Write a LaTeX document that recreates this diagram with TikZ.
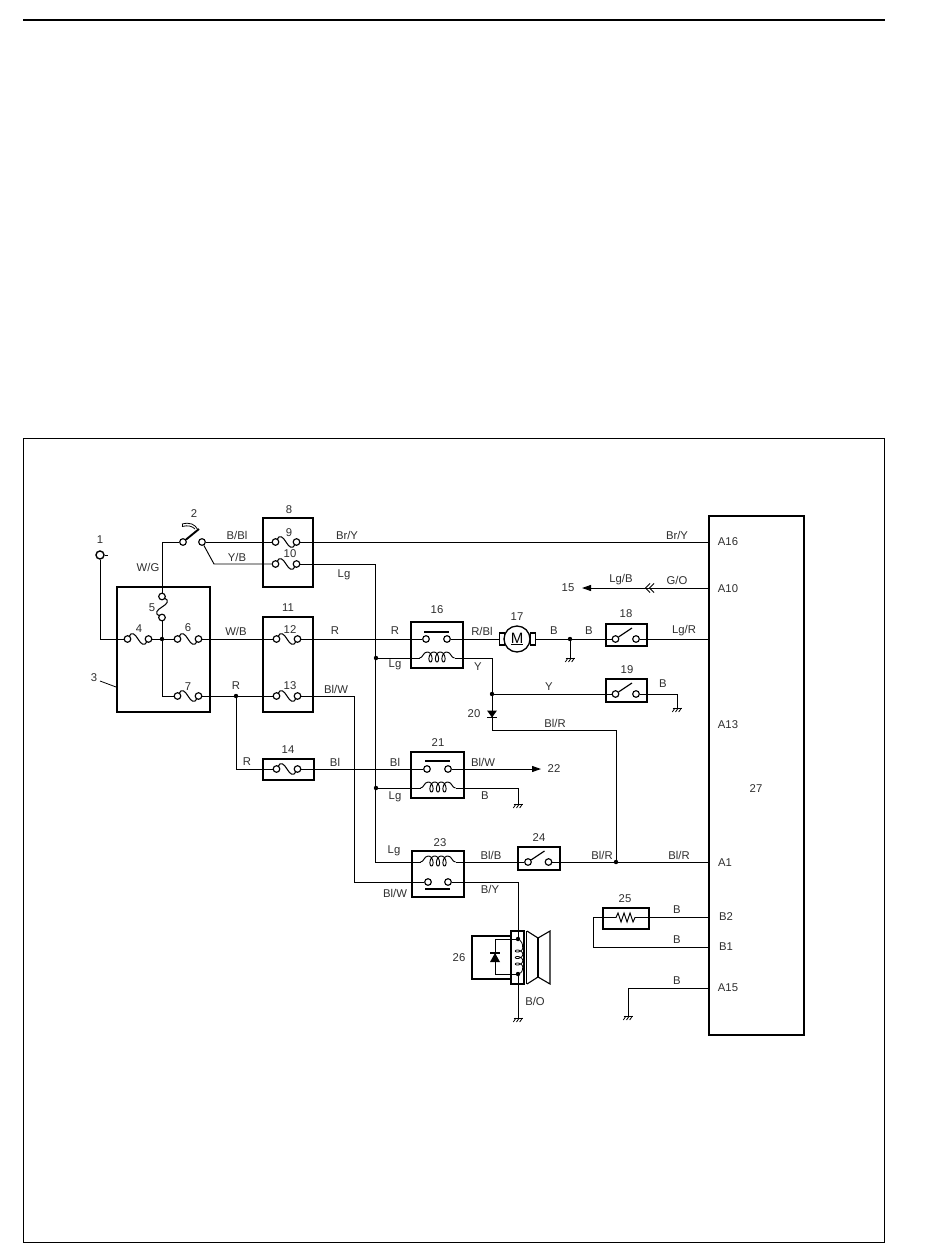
\documentclass[tikz,border=0pt]{standalone}
\usepackage{fontspec}
\setmainfont{Liberation Sans}
\usetikzlibrary{arrows.meta}
\newcount\labn
\tikzset{
  x=1pt,y=-1pt,
  wire/.style={line width=0.95pt,line join=miter},
  boxn/.style={draw,line width=1.4pt,inner sep=0pt,fill=none},
  term/.style={circle,draw,line width=1.15pt,fill=white,minimum size=6.6pt,inner sep=0pt},
  dotn/.style={circle,fill=black,minimum size=4.4pt,inner sep=0pt},
  lbl/.style={inner sep=0pt,font=\fontsize{11.3}{12}\selectfont,text=black!82},
  thinl/.style={line width=0.8pt},
  blade/.style={line width=1.15pt},
}
\newcommand{\lab}[3]{\global\advance\labn by 1 \node[lbl] (t\the\labn) at (#1,#2) {#3};}
\newcommand{\bx}[5]{\node[boxn,minimum width={(#4-#2)*1pt},minimum height={(#5-#3)*1pt}] (#1) at ({(#2+#4)/2},{(#3+#5)/2}) {};}
\newcommand{\fuse}[3]{%
  \draw[line width=1.05pt] (#2-9,#3-2.5) .. controls (#2-6.5,#3-8) and (#2-3,#3-5) .. (#2,#3) .. controls (#2+3,#3+5) and (#2+6.5,#3+8) .. (#2+9,#3+2.5);
  \node[term] (#1l) at (#2-10.5,#3) {};
  \node[term] (#1r) at (#2+10.5,#3) {};}
\newcommand{\vfuse}[3]{%
  \draw[line width=1.05pt] (#2+2.5,#3-9) .. controls (#2+8,#3-6.5) and (#2+5,#3-3) .. (#2,#3) .. controls (#2-5,#3+3) and (#2-8,#3+6.5) .. (#2-2.5,#3+9);
  \node[term] (#1t) at (#2,#3-10.5) {};
  \node[term] (#1b) at (#2,#3+10.5) {};}
\newcommand{\swt}[3]{%
  \node[term] (#1l) at (#2-10.5,#3) {};
  \node[term] (#1r) at (#2+10,#3) {};
  \draw[blade] (#1l) -- (#2+6,#3-11);}
\newcommand{\coilh}[3]{%
  \coordinate (#1l) at (#2-17.5,#3);
  \coordinate (#1r) at (#2+17.5,#3);
  \draw[wire] (#1l) .. controls (#2-14,#3) and (#2-14,#3-6) .. (#2-9.75,#3-6);
  \draw[wire] plot[domain=0:1080,samples=121,smooth,variable=\t] ({#2+(\t/1080-0.5)*19.5+3.0*sin(\t)},{#3-1-5*cos(\t)});
  \draw[wire] (#2+9.75,#3-6) .. controls (#2+14,#3-6) and (#2+14,#3) .. (#1r);}
\newcommand{\gnd}[2]{%
  \draw[thinl] (#1-4.5,#2) -- (#1+4.5,#2);
  \foreach \k in {-4,-0.8,2.4} \draw[thinl] (#1+\k+2,#2) -- (#1+\k-0.7,#2+4);}
\begin{document}
\begin{tikzpicture}
\useasboundingbox (0,0) rectangle (950,1255);
\fill[white] (0,0) rectangle (950,1255);
% page furniture
\draw[line width=2pt] (23,20) -- (885,20);
\draw[line width=0.9pt] (23,438.5) rectangle (884,1242);
% boxes
\bx{b3}{117}{587}{210}{712}
\bx{b8}{263}{518}{313}{587}
\bx{b11}{263}{617}{313}{712}
\bx{b14}{263}{759}{314}{780}
\bx{b16}{411}{622}{463}{668}
\bx{b18}{606}{624}{647}{646}
\bx{b19}{606}{679}{647}{702}
\bx{b21}{411}{752}{464}{798}
\bx{b23}{412}{851}{464}{897}
\bx{b24}{518}{847}{560}{870}
\bx{b25}{603}{908}{649}{929}
\bx{b27}{709}{516}{804}{1035}
% comp 1
\node[term,minimum size=8pt,line width=1.4pt] (c1) at (100,555) {};
\draw[wire] (c1.east) -- ++(3,0);
% fuses
\fuse{f4}{138}{639}
\vfuse{f5}{162}{607}
\fuse{f6}{188}{639}
\fuse{f7}{188}{696}
\fuse{f9}{286}{542}
\fuse{f10}{286}{564}
\fuse{f12}{287}{639}
\fuse{f13}{287}{696}
\fuse{f14}{287}{769}
% junctions
\node[dotn] (j1) at (162,639) {};
\node[dotn] (j2) at (236,696) {};
\node[dotn] (j3) at (376,658) {};
\node[dotn] (j4) at (376,788) {};
\node[dotn] (j5) at (570,639) {};
\node[dotn] (j6) at (492,694) {};
\node[dotn] (j7) at (616,862) {};
% ignition switch
\node[term] (s2l) at (183,542) {};
\node[term] (s2r) at (202,542) {};
\draw[line width=1.9pt] (s2l) -- (199,529);
\draw[thinl] (182,524) .. controls (190,522) and (195,524) .. (198,530);
\draw[thinl] (182,526.5) .. controls (188,525) and (192,526) .. (195,529);
\draw[thinl] (182,524) -- (182,526.5);
\draw[wire] (c1) |- (f4l);
\draw[wire] (s2l) -| (f5t);
\draw[wire] (f5b) -- (j1);
\draw[wire] (f4r) -- (j1);
\draw[wire] (j1) -- (f6l);
\draw[wire] (j1) |- (f7l);
\draw[wire] (s2r) -- (f9l);
\coordinate (k1) at (214,564);
\draw[wire] (s2r) -- (k1) -- (f10l);
\draw[wire] (f6r) -- (f12l);
\draw[wire] (f7r) -- (j2) -- (f13l);
% relay 16
\node[term] (r16a) at (426,639) {};
\node[term] (r16b) at (447,639) {};
\draw[line width=1.1pt] (424,632) -- (449,632);
\coilh{r16c}{437}{658}
% relay 21
\node[term] (r21a) at (427,769) {};
\node[term] (r21b) at (448,769) {};
\draw[line width=1.1pt] (425,761) -- (450,761);
\coilh{r21c}{438}{788}
% relay 23
\coilh{r23c}{438}{862}
\node[term] (r23a) at (428,882) {};
\node[term] (r23b) at (448,882) {};
\draw[line width=1.1pt] (425,889) -- (450,889);
% switches
\swt{s18}{626}{639}
\swt{s19}{626}{694}
\swt{s24}{538.5}{862}
% motor
\node[circle,draw,line width=1.3pt,minimum size=26pt,inner sep=0pt,fill=white,font=\fontsize{15}{15}\selectfont] (m) at (517,639) {\underline{M}};
\node[draw,line width=1.1pt,minimum width=5pt,minimum height=12pt,inner sep=0pt] (ml) at (502,639) {};
\node[draw,line width=1.1pt,minimum width=5pt,minimum height=12pt,inner sep=0pt] (mr) at (533,639) {};
% wires mid
\draw[wire] (f12r) -- (r16a);
\draw[wire] (r16b) -- (ml);
\draw[wire] (mr) -- (j5) -- (s18l);
\coordinate (g17) at (570,658);
\draw[wire] (j5) -- (g17);
\gnd{570}{658}
\coordinate (A16) at (709,542);
\draw[wire] (f9r) -- (A16);
\coordinate (k2) at (375.5,564);
\coordinate (k3) at (375.5,862);
\draw[wire] (f10r) -- (k2) -- (k3) -- (r23cl);
\draw[wire] (j3) -- (r16cl);
\draw[wire] (j4) -- (r21cl);
\draw[wire] (r16cr) -| (j6);
\draw[wire] (j6) -- (s19l);
\coordinate (g19) at (677,708);
\draw[wire] (s19r) -| (g19);
\gnd{677}{708}
\coordinate (A1) at (709,862);
\coordinate (k4) at (492,730);
\draw[wire] (j6) -- (k4) -| (j7);
\fill (487,710.5) -- (497,710.5) -- (492,717.5) -- cycle;
\draw[line width=1.2pt] (487,717.5) -- (497,717.5);
\coordinate (A18) at (709,639);
\draw[wire] (s18r) -- (A18);
% fuse 14 path
\draw[wire] (j2) |- (f14l);
\draw[wire] (f14r) -- (r21a);
\coordinate (a22) at (541,769);
\draw[wire,-{Triangle[length=9pt,width=6pt]}] (r21b) -- (a22);
\coordinate (g21) at (518,804);
\draw[wire] (r21cr) -| (g21);
\gnd{518}{804}
% relay 23 wires
\coordinate (k5) at (354,696);
\coordinate (k6) at (354,882);
\draw[wire] (f13r) -- (k5) -- (k6) -- (r23a);
\draw[wire] (r23cr) -- (s24l);
\draw[wire] (s24r) -- (j7) -- (A1);
% speaker
\draw[line width=1.2pt] (472,936) rectangle (511,979);
\draw[line width=1.3pt] (511,931) rectangle (524,984);
\draw[line width=1.5pt] (526.5,931) -- (526.5,984);
\draw[line width=1.1pt,line join=miter] (527,931) -- (538,938) -- (550,931) -- (550,984) -- (538,977) -- (527,984);
\draw[line width=1.1pt] (538,938) -- (538,977);
\node[dotn] (d1) at (518,939) {};
\node[dotn] (d2) at (518,974) {};
\coordinate (k7) at (518,882);
\draw[wire] (r23b) -- (k7) -- (d1);
\coordinate (g26) at (518,1018);
\draw[wire] (d2) -- (g26);
\gnd{518}{1018}
\coordinate (k8) at (495,939);
\coordinate (k9) at (495,974);
\draw[wire] (d1) -- (k8) -- (k9) -- (d2);
\fill (495,953) -- (490,962) -- (500,962) -- cycle;
\draw[line width=1.2pt] (490,953) -- (500,953);
\draw[thinl] (d1) .. controls (521,941) and (522.7,943) .. (522.7,947.75);
\draw[thinl] plot[domain=0:1080,samples=121,smooth,variable=\t] ({519+3.7*cos(\t)},{957.5+(\t/1080-0.5)*19.5+2.4*sin(\t)});
\draw[thinl] (522.7,967.25) .. controls (522.7,971) and (521,973) .. (d2);
% G/O arrow
\coordinate (A10) at (709,588);
\coordinate (a15) at (582,588);
\draw[wire,-{Triangle[length=9pt,width=6pt]}] (A10) -- (a15);
\draw[wire] (650,583.5) -- (645.5,588) -- (650,592.5);
\draw[wire] (654,583.5) -- (649.5,588) -- (654,592.5);
% resistor 25
\coordinate (A25) at (709,917.5);
\coordinate (k13) at (603,917.5);
\coordinate (k14) at (649,917.5);
\draw[wire] (k14) -- (A25);
\draw[wire] (k13) -- (616,917.5) -- (618,913) -- (621,922) -- (624,913) -- (627,922) -- (630,913) -- (633,922) -- (635,917.5) -- (k14);
\coordinate (k10) at (593,917.5);
\coordinate (A26) at (709,947);
\draw[wire] (k13) -- (k10) |- (A26);
\coordinate (A15) at (709,988);
\coordinate (g25) at (628,1016);
\draw[wire] (A15) -| (g25);
\gnd{628}{1016}
% tick for 3
\lab{94}{678}{3}
\coordinate (k11) at (100,681);
\coordinate (k12) at (116,687);
\draw[thinl] (k11) -- (k12);
% labels
\lab{100}{540}{1}\lab{194}{514}{2}\lab{148}{567}{W/G}\lab{139}{629}{4}\lab{152}{608}{5}
\lab{188}{628}{6}\lab{188}{687}{7}\lab{289}{510}{8}\lab{289}{533}{9}\lab{290}{554}{10}
\lab{288}{608}{11}\lab{290}{630}{12}\lab{290}{686}{13}\lab{288}{750}{14}
\lab{237}{535}{B/Bl}\lab{237}{557}{Y/B}\lab{236}{631}{W/B}\lab{236}{686}{R}
\lab{347}{535}{Br/Y}\lab{677}{535}{Br/Y}\lab{344}{575}{Lg}\lab{335}{631}{R}\lab{336}{689}{Bl/W}
\lab{395}{631}{R}\lab{395}{665}{Lg}\lab{437}{610}{16}\lab{482}{631}{R/Bl}\lab{517}{617}{17}
\lab{554}{631}{B}\lab{589}{631}{B}\lab{626}{614}{18}\lab{684}{631}{Lg/R}\lab{478}{667}{Y}
\lab{549}{687}{Y}\lab{627}{670}{19}\lab{663}{684}{B}\lab{474}{714}{20}\lab{555}{723}{Bl/R}
\lab{438}{743}{21}\lab{395}{762}{Bl}\lab{483}{762}{Bl/W}\lab{554}{769}{22}\lab{395}{797}{Lg}
\lab{485}{796}{B}\lab{247}{762}{R}\lab{335}{762}{Bl}\lab{440}{843}{23}\lab{394}{851}{Lg}
\lab{491}{855}{Bl/B}\lab{539}{838}{24}\lab{602}{855}{Bl/R}\lab{679}{855}{Bl/R}\lab{395}{893}{Bl/W}
\lab{490}{889}{B/Y}\lab{625}{899}{25}\lab{677}{910}{B}\lab{677}{940}{B}\lab{677}{981}{B}
\lab{535}{1001}{B/O}\lab{459}{958}{26}\lab{621}{580}{Lg/B}\lab{677}{580}{G/O}\lab{568}{588}{15}
\lab{728}{542}{A16}\lab{728}{589}{A10}\lab{728}{725}{A13}\lab{756}{789}{27}\lab{725}{863}{A1}
\lab{726}{917}{B2}\lab{726}{947}{B1}\lab{728}{988}{A15}
\end{tikzpicture}
\end{document}
